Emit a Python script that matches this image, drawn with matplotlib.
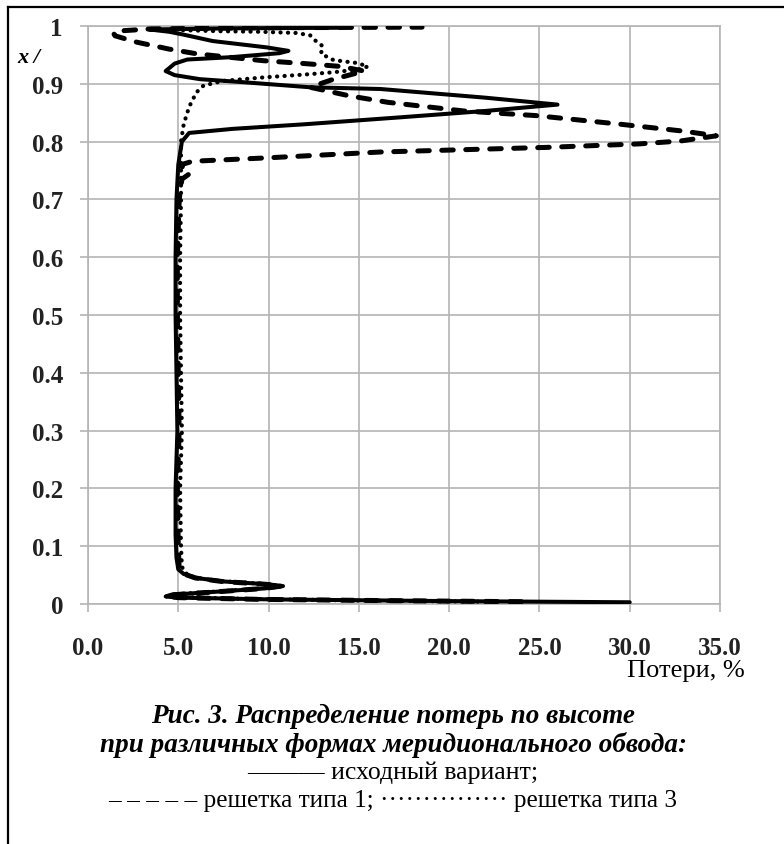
import numpy as np
import matplotlib
matplotlib.use("Agg")
import matplotlib.pyplot as plt
from matplotlib.lines import Line2D

# --- data: losses (%) vs relative height ---
base_y = [0.003, 0.005, 0.008, 0.011, 0.013, 0.016, 0.021, 0.027, 0.031, 0.034, 0.039, 0.045,
          0.052, 0.060, 0.080, 0.12, 0.2, 0.3, 0.4, 0.5, 0.6, 0.7, 0.76, 0.80, 0.815, 0.822,
          0.830, 0.842, 0.853, 0.864, 0.876, 0.891, 0.894, 0.903, 0.908, 0.915, 0.922, 0.935,
          0.942, 0.946, 0.953, 0.957, 0.963, 0.974, 0.985, 0.990, 0.994, 0.996, 0.997]
base_x = [30.0, 20.0, 10.0, 5.0, 4.3, 4.6, 7.0, 9.8, 10.8, 10.0, 7.5, 6.0,
          5.3, 5.0, 4.9, 4.85, 4.85, 4.95, 4.9, 4.85, 4.85, 4.9, 5.0, 5.2, 5.6, 8.0,
          12.0, 17.3, 22.0, 26.0, 22.0, 16.2, 12.3, 8.5, 6.2, 4.8, 4.3, 4.8,
          5.5, 7.9, 10.6, 11.1, 9.9, 6.9, 5.3, 4.5, 3.4, 8.0, 14.0]

type1_y = [0.004, 0.006, 0.008, 0.011, 0.013, 0.016, 0.021, 0.027, 0.031, 0.034, 0.039, 0.045,
           0.052, 0.062, 0.1, 0.2, 0.3, 0.4, 0.5, 0.6, 0.7, 0.735, 0.745, 0.752, 0.760, 0.766,
           0.772, 0.782, 0.790, 0.796, 0.801, 0.810, 0.818, 0.830, 0.845, 0.853, 0.868, 0.879,
           0.894, 0.908, 0.922, 0.930, 0.935, 0.940, 0.947, 0.952, 0.960, 0.972, 0.983, 0.988,
           0.992, 0.995, 0.997, 0.998]
type1_x = [24.0, 16.0, 9.5, 5.0, 4.4, 4.7, 7.1, 9.8, 10.7, 9.9, 7.4, 5.95,
           5.3, 5.05, 5.0, 4.95, 5.05, 5.0, 4.95, 4.95, 5.05, 5.2, 5.65, 5.3, 5.15, 5.8,
           10.0, 16.2, 25.4, 30.5, 32.8, 34.8, 33.0, 29.5, 24.8, 20.8, 16.6, 14.5,
           12.3, 13.6, 15.3, 14.0, 12.0, 9.7, 7.5, 6.0, 4.5, 2.7, 1.5, 1.4,
           2.0, 3.5, 10.0, 18.5]

type3_y = [0.004, 0.006, 0.009, 0.012, 0.014, 0.017, 0.022, 0.028, 0.032, 0.035, 0.040, 0.046,
           0.054, 0.065, 0.1, 0.2, 0.3, 0.4, 0.5, 0.6, 0.7, 0.8, 0.83, 0.86, 0.885, 0.897,
           0.905, 0.911, 0.916, 0.920, 0.925, 0.930, 0.936, 0.941, 0.952, 0.965, 0.977, 0.984,
           0.988, 0.990, 0.991, 0.993]
type3_x = [22.0, 15.0, 8.5, 5.1, 4.5, 4.9, 7.3, 10.0, 10.5, 9.6, 7.2, 5.9,
           5.35, 5.2, 5.15, 5.1, 5.2, 5.15, 5.1, 5.1, 5.15, 5.15, 5.3, 5.6, 6.0, 6.4,
           7.5, 9.7, 12.0, 13.6, 15.0, 15.5, 14.9, 13.6, 12.9, 13.0, 12.5, 12.3,
           11.5, 9.5, 7.3, 5.0]

x_ticks = [0, 5, 10, 15, 20, 25, 30, 35]
x_labels = ["0.0", "5.0", "10.0", "15.0", "20.0", "25.0", "30.0", "35.0"]
y_ticks = [0, 0.1, 0.2, 0.3, 0.4, 0.5, 0.6, 0.7, 0.8, 0.9, 1.0]
y_labels = ["0", "0.1", "0.2", "0.3", "0.4", "0.5", "0.6", "0.7", "0.8", "0.9", "1"]

serif = ["Liberation Serif", "DejaVu Serif"]
grid_c = "#b4b4b4"

fig = plt.figure(figsize=(7.84, 8.45), dpi=100)
ax = fig.add_axes([88 / 784, 1 - 605 / 845, (720 - 88) / 784, (605 - 27) / 845])

ax.plot(base_x, base_y, color="black", lw=2.9, solid_capstyle="round",
        solid_joinstyle="round", zorder=3)
ax.plot(type1_x, type1_y, color="black", lw=3.6, linestyle=(0, (2.3, 2.5)),
        dash_capstyle="round", zorder=4)
ax.plot(type3_x, type3_y, color="black", lw=3.0, linestyle=(0, (0.05, 1.75)),
        dash_capstyle="round", zorder=4)

ax.set_xlim(0, 35)
ax.set_ylim(0, 1)
ax.set_xticks(x_ticks)
ax.set_xticklabels(x_labels)
ax.set_yticks(y_ticks)
ax.set_yticklabels(y_labels)
ax.grid(True, color=grid_c, lw=1.2)
ax.set_axisbelow(True)
for s in ax.spines.values():
    s.set_color(grid_c)
    s.set_linewidth(1.2)
ax.tick_params(axis="both", color=grid_c, width=1.2, length=6)
ax.tick_params(axis="x", pad=17)
ax.tick_params(axis="y", pad=12)
for lab in ax.get_xticklabels() + ax.get_yticklabels():
    lab.set_family(serif)
    lab.set_fontweight("bold")
    lab.set_fontsize(18)
    lab.set_color("#222222")

fig.text(17 / 784, 1 - 58 / 845, "x /", family=serif, style="italic", fontweight="bold",
         fontsize=16, va="center", ha="left")
fig.text(745 / 784, 1 - 671 / 845, "Потери, %", family=serif, fontsize=19,
         va="center", ha="right")

cx = 393 / 784
fig.text(cx, 1 - 716 / 845, "Рис. 3. Распределение потерь по высоте", family=serif,
         style="italic", fontweight="bold", fontsize=19.5, ha="center", va="center")
fig.text(cx, 1 - 745 / 845, "при различных формах меридионального обвода:", family=serif,
         style="italic", fontweight="bold", fontsize=19.5, ha="center", va="center")
fig.text(cx, 1 - 773 / 845, "——— исходный вариант;", family=serif,
         fontsize=18.5, ha="center", va="center")
fig.text(cx, 1 - 801 / 845, "– – – – – решетка типа 1; ··············· решетка типа 3",
         family=serif, fontsize=18.2, ha="center", va="center")

# page frame (left and top edges only)
fig.add_artist(Line2D([8 / 784, 8 / 784], [0, 1 - 8 / 845], transform=fig.transFigure,
                      color="black", lw=1.6))
fig.add_artist(Line2D([8 / 784, 1], [1 - 8 / 845, 1 - 8 / 845], transform=fig.transFigure,
                      color="black", lw=1.6))

fig.savefig("out.png", dpi=100)
